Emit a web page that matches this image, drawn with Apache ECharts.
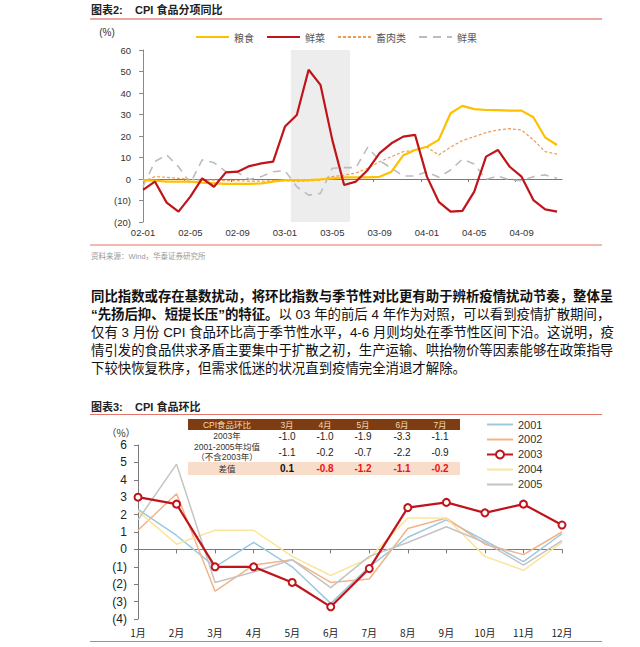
<!DOCTYPE html>
<html>
<head>
<meta charset="utf-8">
<script src="https://cdn.jsdelivr.net/npm/echarts@6/dist/echarts.min.js"></script>
<style>
html,body{margin:0;padding:0;background:#fff;}
#wrap{position:relative;width:640px;height:647px;overflow:hidden;font-family:"Liberation Sans","Noto Sans CJK SC",sans-serif;color:#111;}
#chart{position:absolute;left:0;top:0;width:640px;height:647px;}
.title{position:absolute;left:91px;font-size:11px;font-weight:bold;color:#222;white-space:pre;line-height:14px;}
.rule{position:absolute;left:90px;width:512px;height:0;}
.src{position:absolute;left:91px;top:252px;font-size:7.5px;color:#999;line-height:10px;}
.para{position:absolute;left:91px;width:512px;font-size:13.4px;line-height:18px;height:18px;white-space:nowrap;text-align:justify;text-align-last:justify;text-justify:inter-character;color:#111;}
.para.last{text-align:left;text-align-last:left;}
.para b{font-weight:bold;}
</style>
</head>
<body>
<div id="wrap">
  <div id="chart"></div>
  <div class="title" style="top:3px;">图表2:    CPI 食品分项同比</div>
  <div class="rule" style="top:18px;border-top:2px solid #E9A9A3;"></div>
  <div class="rule" style="top:244px;border-top:2px solid #F0BBAE;"></div>
  <div class="src">资料来源：Wind，华泰证券研究所</div>
  <div class="para" style="top:288px;"><b>同比指数或存在基数扰动，将环比指数与季节性对比更有助于辨析疫情扰动节奏，整体呈</b></div>
  <div class="para" style="top:306px;"><b>“先扬后抑、短提长压”的特征。</b>以 03 年的前后 4 年作为对照，可以看到疫情扩散期间，</div>
  <div class="para" style="top:324px;">仅有 3 月份 CPI 食品环比高于季节性水平，4-6 月则均处在季节性区间下沿。这说明，疫</div>
  <div class="para" style="top:342px;">情引发的食品供求矛盾主要集中于扩散之初，生产运输、哄抬物价等因素能够在政策指导</div>
  <div class="para last" style="top:360px;">下较快恢复秩序，但需求低迷的状况直到疫情完全消退才解除。</div>
  <div class="title" style="top:400px;">图表3:    CPI 食品环比</div>
  <div class="rule" style="top:414px;border-top:1.5px solid #E2766C;"></div>
  <div class="rule" style="top:641px;border-top:1.5px solid #E2766C;"></div>
</div>
<script>
// ---------- Chart 1 data: CPI food components, YoY (%) ----------
const months1 = ['02-01','02-02','02-03','02-04','02-05','02-06','02-07','02-08','02-09','02-10','02-11','02-12',
                 '03-01','03-02','03-03','03-04','03-05','03-06','03-07','03-08','03-09','03-10','03-11','03-12',
                 '04-01','04-02','04-03','04-04','04-05','04-06','04-07','04-08','04-09','04-10','04-11','04-12'];
const labelMonths1 = ['02-01','02-05','02-09','03-01','03-05','03-09','04-01','04-05','04-09'];
const grain = [-0.5,-0.8,-1.2,-1.2,-1.2,-1.7,-2.0,-2.3,-2.3,-2.3,-2.0,-1.2,-0.5,-0.5,-0.5,-0.2,0.3,0.8,
               0.8,0.8,1.0,3.4,11.0,13.5,15.0,18.2,30.6,34.0,32.5,32.1,32.0,31.8,31.8,28.7,19.3,15.8];
const vegetables = [-5.1,-1.2,-11.0,-15.2,-8.2,0.3,-3.6,3.1,3.4,6.0,7.3,8.1,24.4,29.8,50.8,43.8,18.2,-2.8,
                    -1.2,4.2,12.0,16.6,19.7,20.5,1.1,-10.6,-15.2,-14.8,-5.9,10.4,13.5,5.7,1.1,-9.8,-14.1,-15.2];
const meat = [-1.2,1.1,0.8,0.3,-0.2,-0.5,-0.5,-0.8,-0.8,-1.0,-1.0,-0.8,-0.8,-1.1,-0.8,-0.5,1.1,1.8,
              2.8,5.0,8.0,10.4,12.7,13.5,14.8,11.2,14.8,17.9,19.7,21.6,22.8,23.4,22.8,18.2,12.7,11.6];
const fruit = [-3.6,8.1,11.2,5.7,-2.0,8.9,7.6,3.4,3.0,-0.2,1.1,3.4,3.9,-3.6,-7.5,-6.7,5.0,5.3,
               5.3,14.8,8.5,5.0,1.4,1.4,3.4,0.8,4.2,9.2,7.0,-0.2,1.4,-0.5,-0.8,1.1,1.9,0.3];
const names1 = ['粮食','鲜菜','畜肉类','鲜果'];
const shadePeriod = ['03-02','03-06'];

// ---------- Chart 2 data: CPI food, MoM (%) ----------
const months2 = ['1月','2月','3月','4月','5月','6月','7月','8月','9月','10月','11月','12月'];
const y2001 = [2.3,0.8,-1.0,0.4,-1.0,-3.1,-1.0,0.7,1.7,0.5,-0.7,0.9];
const y2002 = [1.1,3.2,-2.4,-0.9,-0.6,-1.9,-1.7,1.2,1.8,0.3,-0.3,1.0];
const y2003 = [3.0,2.6,-1.0,-1.0,-1.9,-3.3,-1.1,2.4,2.7,2.1,2.6,1.4];
const y2004 = [2.2,0.3,1.1,1.1,-0.4,-1.5,-0.5,1.8,1.8,-0.4,-1.2,0.4];
const y2005 = [1.7,4.9,-1.9,-1.3,-0.6,-2.2,-0.4,0.4,1.3,0.4,-0.9,0.5];
const years = ['2001','2002','2003','2004','2005'];

// ---------- Table data ----------
const tableHeader = 'CPI食品环比';
const tableMonths = ['3月','4月','5月','6月','7月'];
const row2003Label = '2003年';
const row2003 = [-1.0,-1.0,-1.9,-3.3,-1.1];
const rowAvgLabel = ['2001-2005年均值','（不含2003年）'];
const rowAvg = [-1.1,-0.2,-0.7,-2.2,-0.9];
const rowDiffLabel = '差值';
const rowDiff = [0.1,-0.8,-1.2,-1.1,-0.2];

// ---------- helpers ----------
const paren = v => (v < 0 ? '(' + (-v) + ')' : String(v));
const pairs = arr => arr.map((v, i) => [i, v]);
const fmt1 = v => v.toFixed(1);

const labelIdx = labelMonths1.map(m => months1.indexOf(m));
const tickIdx = labelIdx.map(i => i + 3.5);
const shadeFrom = months1.indexOf(shadePeriod[0]) - 0.5;
const shadeTo = months1.indexOf(shadePeriod[1]) + 0.5;

// table graphics
const colX = [287, 325, 363, 402, 440];
const tableG = [];
tableG.push({type:'rect', shape:{x:188, y:419, width:272, height:11}, style:{fill:'#7D3C12'}, z:1});
tableG.push({type:'rect', shape:{x:188, y:462, width:272, height:13}, style:{fill:'#F8DDCB'}, z:1});
function txt(t, x, y, opt) {
  return Object.assign({type:'text', x:x, y:y, z:2,
    style:Object.assign({text:t, fill:'#222', font:'9px "Liberation Sans","Noto Sans CJK SC"', lineHeight:9,
      align:'center', verticalAlign:'middle', textAlign:'center', textVerticalAlign:'middle'}, opt||{})});
}
const lbl = '8.5px "Liberation Sans","Noto Sans CJK SC"';
tableG.push(txt(tableHeader, 227, 424.5, {fill:'#F4D9B0', font:lbl}));
tableMonths.forEach((m, i) => tableG.push(txt(m, colX[i], 424.5, {fill:'#F4D9B0', font:lbl})));
tableG.push(txt(row2003Label, 227, 436, {font:lbl, fill:'#333'}));
row2003.forEach((v, i) => tableG.push(txt(fmt1(v), colX[i], 436.5, {font:'10px "Liberation Sans"'})));
tableG.push(txt(rowAvgLabel[0], 227, 447, {font:lbl, fill:'#333'}));
tableG.push(txt(rowAvgLabel[1], 227, 457, {font:lbl, fill:'#333'}));
rowAvg.forEach((v, i) => tableG.push(txt(fmt1(v), colX[i], 452.5, {font:'10px "Liberation Sans"'})));
tableG.push(txt(rowDiffLabel, 227, 468.5, {font:lbl, fill:'#333'}));
rowDiff.forEach((v, i) => tableG.push(txt(fmt1(v), colX[i], 468.5, {font:'bold 10px "Liberation Sans"', fill: v < 0 ? '#F01010' : '#111'})));
// axis unit labels
tableG.push(txt('(%)', 107, 32, {font:'10px "Liberation Sans"', fill:'#333', lineHeight:11}));
tableG.push(txt('（%）', 121, 432, {font:'10px "Noto Sans CJK SC"', fill:'#333', lineHeight:11}));

const hideSym = {opacity: 0};
const chart = echarts.init(document.getElementById('chart'), null, {renderer:'svg'});
const option = {
  animation: false,
  backgroundColor: 'transparent',
  textStyle: {fontFamily: '"Liberation Sans","Noto Sans CJK SC",sans-serif'},
  graphic: tableG,
  legend: [
    {
      data: names1.map(n => ({name: n, itemStyle: hideSym})), left: 190, top: 27, itemWidth: 33, itemHeight: 10, itemGap: 12,
      textStyle: {fontSize: 10, color: '#555', fontFamily: '"Noto Sans CJK SC"'}
    },
    {
      data: years.map(y => (y === '2003' ? y : {name: y, itemStyle: hideSym})),
      orient: 'vertical', left: 481, top: 414, itemWidth: 26, itemHeight: 10, itemGap: 4,
      textStyle: {fontSize: 11, color: '#333'}
    }
  ],
  grid: [
    {left: 139, right: 78, top: 50, bottom: 647 - 222},
    {left: 138, right: 78, top: 445, bottom: 647 - 619}
  ],
  xAxis: [
    {
      gridIndex: 0, type: 'value', min: -0.34, max: 35.42,
      axisLine: {onZero: true, lineStyle: {color: '#7a7a7a', width: 1}},
      axisTick: {show: true, customValues: tickIdx, length: 3, lineStyle: {color: '#7a7a7a'}},
      axisLabel: {show: false}, splitLine: {show: false}
    },
    {
      gridIndex: 0, type: 'value', min: -0.34, max: 35.42, position: 'bottom',
      axisLine: {show: false, onZero: false}, axisTick: {show: false}, splitLine: {show: false},
      axisLabel: {customValues: labelIdx, formatter: v => months1[Math.round(v)], fontSize: 9.5, color: '#333', margin: 6}
    },
    {
      gridIndex: 1, type: 'category', data: months2, boundaryGap: false,
      axisLine: {onZero: true, lineStyle: {color: '#7a7a7a', width: 1}},
      axisTick: {show: true, length: 4, lineStyle: {color: '#7a7a7a'}},
      axisLabel: {show: false}, splitLine: {show: false}
    },
    {
      gridIndex: 1, type: 'category', data: months2, boundaryGap: false, position: 'bottom',
      axisLine: {show: false, onZero: false}, axisTick: {show: false}, splitLine: {show: false},
      axisLabel: {fontSize: 10, color: '#222', margin: 8, fontFamily: '"Noto Sans CJK SC"', interval: 0}
    }
  ],
  yAxis: [
    {
      gridIndex: 0, type: 'value', min: -20, max: 60, interval: 10,
      axisLine: {show: true, lineStyle: {color: '#8a8a8a'}},
      axisTick: {show: true, length: 4, lineStyle: {color: '#8a8a8a'}},
      axisLabel: {formatter: paren, fontSize: 9.5, color: '#333', margin: 8},
      splitLine: {show: false}
    },
    {
      gridIndex: 1, type: 'value', min: -4, max: 6, interval: 1,
      axisLine: {show: true, lineStyle: {color: '#7a7a7a'}},
      axisTick: {show: true, length: 4, lineStyle: {color: '#7a7a7a'}},
      axisLabel: {formatter: paren, fontSize: 12, color: '#222', margin: 11},
      splitLine: {show: false}
    }
  ],
  series: [
    {
      name: '鲜果', type: 'line', xAxisIndex: 0, yAxisIndex: 0, data: pairs(fruit), symbol: 'none', z: 2,
      lineStyle: {color: '#BDBDBD', width: 1.6, type: [8, 6]}, itemStyle: {color: '#BDBDBD'},
      markArea: {silent: true, itemStyle: {color: '#EDEDED'}, data: [[{xAxis: shadeFrom}, {xAxis: shadeTo}]], z: 0}
    },
    {
      name: '畜肉类', type: 'line', xAxisIndex: 0, yAxisIndex: 0, data: pairs(meat), symbol: 'none', z: 3,
      lineStyle: {color: '#EE9B55', width: 1.2, type: [3, 2]}, itemStyle: {color: '#EE9B55'}
    },
    {
      name: '粮食', type: 'line', xAxisIndex: 0, yAxisIndex: 0, data: pairs(grain), symbol: 'none', z: 4,
      lineStyle: {color: '#FFC000', width: 2.2}, itemStyle: {color: '#FFC000'}
    },
    {
      name: '鲜菜', type: 'line', xAxisIndex: 0, yAxisIndex: 0, data: pairs(vegetables), symbol: 'none', z: 5,
      lineStyle: {color: '#C0141B', width: 2.2}, itemStyle: {color: '#C0141B'}
    },
    {
      name: '2001', type: 'line', xAxisIndex: 2, yAxisIndex: 1, data: y2001, symbol: 'none', z: 3,
      lineStyle: {color: '#9CC8E0', width: 1.5}, itemStyle: {color: '#9CC8E0'}
    },
    {
      name: '2002', type: 'line', xAxisIndex: 2, yAxisIndex: 1, data: y2002, symbol: 'none', z: 3,
      lineStyle: {color: '#F3B387', width: 1.5}, itemStyle: {color: '#F3B387'}
    },
    {
      name: '2004', type: 'line', xAxisIndex: 2, yAxisIndex: 1, data: y2004, symbol: 'none', z: 3,
      lineStyle: {color: '#FBE59C', width: 1.5}, itemStyle: {color: '#FBE59C'}
    },
    {
      name: '2005', type: 'line', xAxisIndex: 2, yAxisIndex: 1, data: y2005, symbol: 'none', z: 3,
      lineStyle: {color: '#C4C4C4', width: 1.5}, itemStyle: {color: '#C4C4C4'}
    },
    {
      name: '2003', type: 'line', xAxisIndex: 2, yAxisIndex: 1, data: y2003, symbol: 'emptyCircle', symbolSize: 7, z: 5,
      lineStyle: {color: '#C0141B', width: 2.2}, itemStyle: {color: '#C0141B', borderWidth: 1.2}
    }
  ]
};
chart.setOption(option);
</script>
</body>
</html>
